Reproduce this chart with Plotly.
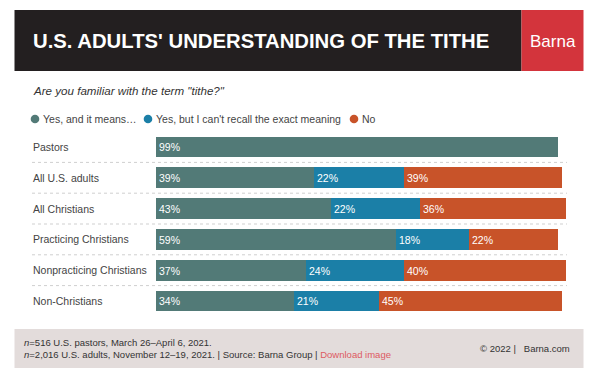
import plotly.graph_objects as go

categories = ["Pastors", "All U.S. adults", "All Christians", "Practicing Christians",
              "Nonpracticing Christians", "Non-Christians"]
yes_means = [99, 39, 43, 59, 37, 34]
yes_cant_recall = [0, 22, 22, 18, 24, 21]
no_vals = [0, 39, 36, 22, 40, 45]
series_names = ["Yes, and it means…", "Yes, but I can't recall the exact meaning", "No"]
colors = ["#527a77", "#1b7fa7", "#c85329"]

W, H = 600, 385
X0, PXPER = 156, 4.06       # bar start pixel, pixels per percent
Y0, ROWH = 147, 30.8        # first row centre pixel, row spacing

def px(x):
    return x / W

def py(y):
    return 1 - y / H

FONT = "Liberation Sans, Arial, sans-serif"

fig = go.Figure()
ys = list(range(len(categories)))
for name, vals, col in zip(series_names, [yes_means, yes_cant_recall, no_vals], colors):
    fig.add_trace(go.Bar(
        y=ys, x=vals, orientation="h", name=name,
        marker=dict(color=col, line=dict(width=0)),
        width=0.68,
        text=[f"{v}%" if v > 0 else "" for v in vals],
        textposition="inside", insidetextanchor="start",
        textfont=dict(color="white", size=10.5, family=FONT),
        constraintext="none", hoverinfo="skip", showlegend=False,
    ))

shapes = []
annotations = []

# header
shapes.append(dict(type="rect", xref="paper", yref="paper", x0=px(14.5), x1=px(521.5),
                   y0=py(71), y1=py(10), fillcolor="#231f20", line=dict(width=0), layer="below"))
shapes.append(dict(type="rect", xref="paper", yref="paper", x0=px(521.5), x1=px(583.5),
                   y0=py(71), y1=py(10), fillcolor="#d3343c", line=dict(width=0), layer="below"))
annotations.append(dict(text="<b>U.S. ADULTS' UNDERSTANDING OF THE TITHE</b>", xref="paper", yref="paper",
                        x=px(31), y=py(41), xanchor="left", yanchor="middle", showarrow=False,
                        font=dict(family=FONT, size=20.3, color="white")))
annotations.append(dict(text="Barna", xref="paper", yref="paper",
                        x=px(552.5), y=py(41), xanchor="center", yanchor="middle", showarrow=False,
                        font=dict(family=FONT, size=17, color="white")))

# subtitle
annotations.append(dict(text="<i>Are you familiar with the term \"tithe?\"</i>", xref="paper", yref="paper",
                        x=px(31), y=py(91), xanchor="left", yanchor="middle", showarrow=False,
                        font=dict(family=FONT, size=11.6, color="#333333")))

# legend
leg_x = [35, 148, 354]
for lx, name, col in zip(leg_x, series_names, colors):
    r = 4.3
    shapes.append(dict(type="circle", xref="paper", yref="paper", x0=px(lx - r), x1=px(lx + r),
                       y0=py(119 + r), y1=py(119 - r), fillcolor=col, line=dict(width=0)))
    annotations.append(dict(text=name, xref="paper", yref="paper", x=px(lx + 5.5), y=py(119),
                            xanchor="left", yanchor="middle", showarrow=False,
                            font=dict(family=FONT, size=10.5, color="#444444")))

# category labels and separators
for i, c in enumerate(categories):
    annotations.append(dict(text=c, xref="paper", yref="y", x=px(31), y=i, xanchor="left",
                            yanchor="middle", showarrow=False,
                            font=dict(family=FONT, size=10.5, color="#444444")))
    if i < len(categories) - 1:
        shapes.append(dict(type="line", xref="paper", yref="y", x0=px(32), x1=px(567),
                           y0=i + 0.5, y1=i + 0.5, line=dict(color="#cfcfcf", width=1, dash="dot")))

# footer
shapes.append(dict(type="rect", xref="paper", yref="paper", x0=px(14.5), x1=px(583.5),
                   y0=py(368), y1=py(329), fillcolor="#e3dcdb", line=dict(width=0), layer="below"))
annotations.append(dict(
    text="<i>n</i>=516 U.S. pastors, March 26–April 6, 2021.<br>"
         "<i>n</i>=2,016 U.S. adults, November 12–19, 2021. | Source: Barna Group | "
         "<span style='color:#dd5a62'>Download image</span>",
    xref="paper", yref="paper", x=px(21.5), y=py(348), xanchor="left", yanchor="middle",
    align="left", showarrow=False, font=dict(family=FONT, size=9.5, color="#333333")))
annotations.append(dict(text="© 2022 |   Barna.com", xref="paper", yref="paper", x=px(572), y=py(348),
                        xanchor="right", yanchor="middle", showarrow=False,
                        font=dict(family=FONT, size=9.5, color="#333333")))

xr = [-X0 / PXPER, (W - X0) / PXPER]
yr = [(H - Y0) / ROWH, -Y0 / ROWH]

fig.update_layout(
    width=W, height=H, autosize=False,
    margin=dict(l=0, r=0, t=0, b=0, pad=0),
    paper_bgcolor="white", plot_bgcolor="white",
    barmode="stack", bargap=0,
    xaxis=dict(range=xr, visible=False, fixedrange=True),
    yaxis=dict(range=yr, visible=False, fixedrange=True),
    shapes=shapes, annotations=annotations,
    uniformtext=dict(minsize=8, mode="show"),
)

fig.write_html("out.html", config={"displayModeBar": False},
               post_script="document.body.style.margin='0';document.body.style.overflow='hidden';")
